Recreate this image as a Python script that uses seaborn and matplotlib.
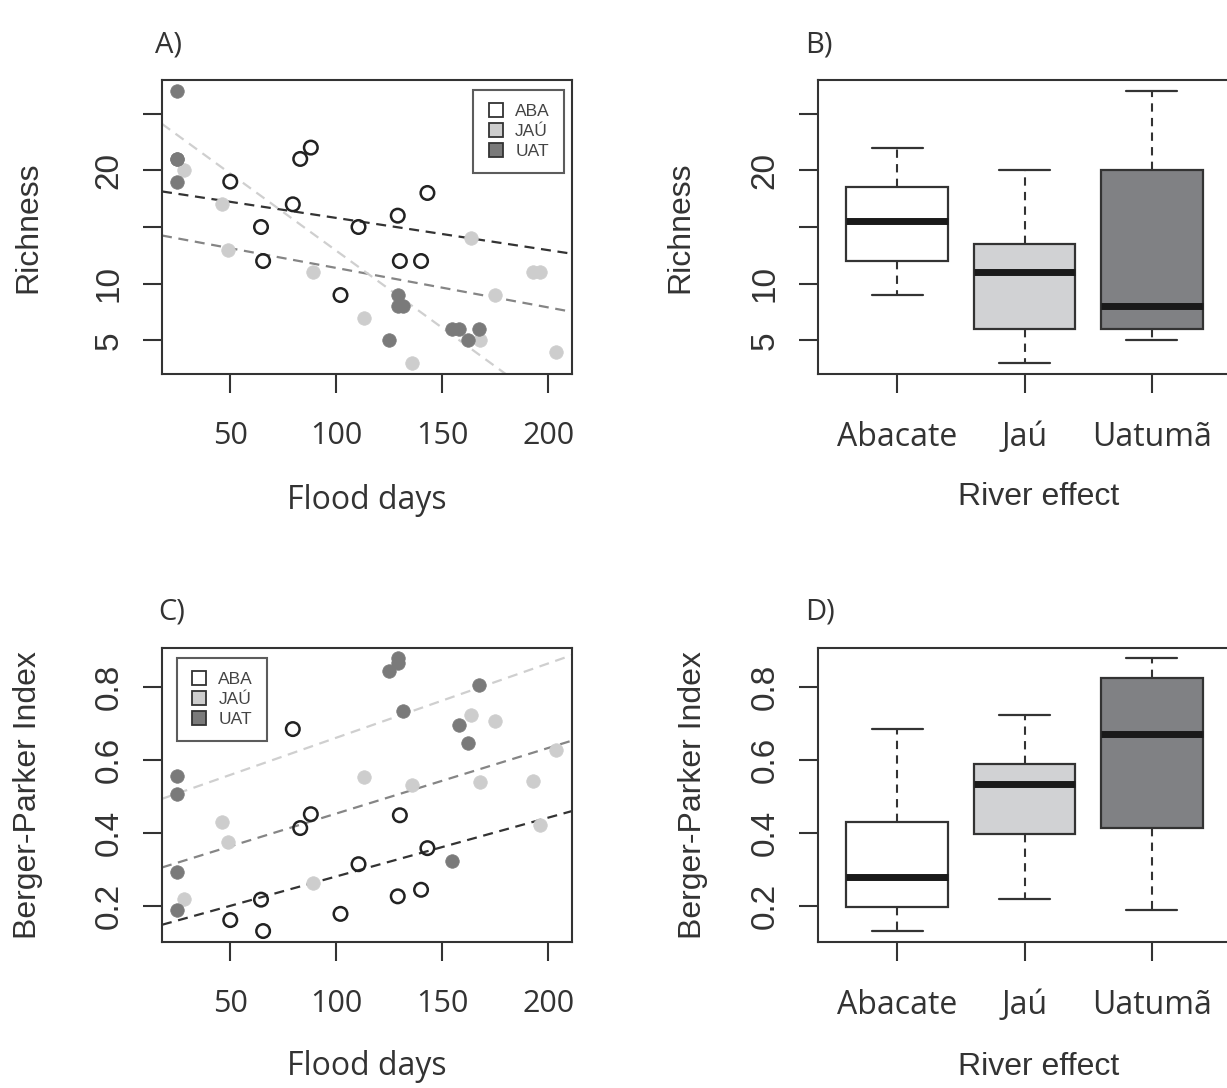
import numpy as np
import pandas as pd
import matplotlib
matplotlib.use("Agg")
import matplotlib.pyplot as plt
from matplotlib.lines import Line2D
import seaborn as sns

# site values
rivers = ["ABA", "JAÚ", "UAT"]
river_names = ["Abacate", "Jaú", "Uatumã"]

aba_days = [50, 64.5, 65.5, 79.5, 83, 88, 102, 110.5, 129, 130, 140, 143]
aba_rich = [19, 15, 12, 17, 21, 22, 9, 15, 16, 12, 12, 18]
aba_bp = [0.161, 0.217, 0.131, 0.684, 0.413, 0.451, 0.178, 0.314, 0.226, 0.448, 0.244, 0.358]

jau_days = [28, 46, 49, 89, 113, 135.5, 163.7, 167.7, 175, 193, 196, 203.5]
jau_rich = [20, 17, 13, 11, 7, 3, 14, 5, 9, 11, 11, 4]
jau_bp = [0.219, 0.430, 0.374, 0.263, 0.552, 0.531, 0.723, 0.538, 0.705, 0.541, 0.420, 0.626]

uat_days = [25, 25, 25, 25, 125, 129, 129, 131.5, 154.5, 157.7, 162, 167.5]
uat_rich = [27, 21, 21, 19, 5, 9, 8, 8, 6, 6, 5, 6]
uat_bp = [0.556, 0.506, 0.293, 0.189, 0.844, 0.879, 0.865, 0.733, 0.323, 0.696, 0.647, 0.804]

# fitted lines (intercept, slope) per river as drawn in the figure
rich_intercepts = [18.64, 14.87, 26.51]
rich_slopes = [-0.0284, -0.0348, -0.136]
bp_intercepts = [0.1195, 0.2731, 0.4568]
bp_slopes = [0.00161, 0.001796, 0.002035]

point_fill = ["none", "#cdcdcd", "#7a7a7a"]
point_edge = ["#222222", "#cdcdcd", "#7a7a7a"]
line_colors = ["#333333", "#858585", "#cfcfcf"]
box_colors = ["#ffffff", "#d1d2d4", "#808184"]
ink = "#333333"

df = pd.DataFrame({
    "river": np.repeat(rivers, 12),
    "name": np.repeat(river_names, 12),
    "days": aba_days + jau_days + uat_days,
    "rich": aba_rich + jau_rich + uat_rich,
    "bp": aba_bp + jau_bp + uat_bp,
})

sns.set_style("ticks")
plt.rcParams["font.family"] = ["Liberation Sans", "DejaVu Sans"]
plt.rcParams["text.color"] = ink
plt.rcParams["axes.labelcolor"] = ink

fig = plt.figure(figsize=(12.27, 10.88), dpi=100)
W, H = 1227, 1088


def add_ax(left, top, width=410, height=294):
    return fig.add_axes([left / W, 1 - (top + height) / H, width / W, height / H])


axA = add_ax(162, 80)
axB = add_ax(818, 80, width=413)
axC = add_ax(162, 648)
axD = add_ax(818, 648, width=413)


def style_axes(ax):
    for sp in ax.spines.values():
        sp.set_visible(True)
        sp.set_linewidth(1.5)
        sp.set_color(ink)
    ax.tick_params(axis="both", length=14, width=1.5, color=ink, labelcolor=ink)
    ax.tick_params(axis="x", labelsize=22, pad=20)
    ax.tick_params(axis="y", labelsize=24, pad=13)
    for lab in ax.get_yticklabels():
        lab.set_rotation(90)
        lab.set_va("center")
    ax.grid(False)


def fivenum(values):
    # R-style boxplot stats (Tukey hinges)
    x = np.sort(np.asarray(values, dtype=float))
    n = len(x)
    n4 = np.floor((n + 3) / 2) / 2
    d = np.array([1, n4, (n + 1) / 2, n + 1 - n4, n]) - 1
    return 0.5 * (x[np.floor(d).astype(int)] + x[np.ceil(d).astype(int)])


def box_stats(values):
    lo, q1, med, q3, hi = fivenum(values)
    x = np.asarray(values, dtype=float)
    iqr = q3 - q1
    inside = x[(x >= q1 - 1.5 * iqr) & (x <= q3 + 1.5 * iqr)]
    return {"med": med, "q1": q1, "q3": q3,
            "whislo": inside.min(), "whishi": inside.max(), "fliers": []}


def scatter_panel(ax, col, intercepts, slopes, ylim, yticks, ylabels, ylabel, legend_loc):
    for i, r in enumerate(rivers):
        sub = df[df["river"] == r]
        sns.scatterplot(data=sub, x="days", y=col, ax=ax, s=95,
                        facecolor=point_fill[i], edgecolor=point_edge[i],
                        linewidth=1.8 if i == 0 else 0.5, zorder=3)
    for i in range(3):
        ax.axline((0, intercepts[i]), slope=slopes[i], color=line_colors[i],
                  lw=1.6, dashes=(4.5, 3), zorder=2)
    ax.set_xlim(17.8, 211.2)
    ax.set_ylim(*ylim)
    ax.set_xticks([50, 100, 150, 200])
    ax.set_xticklabels(["50", "100", "150", "200"], family=["Open Sans", "DejaVu Sans"])
    ax.set_yticks(yticks)
    ax.set_yticklabels(ylabels)
    style_axes(ax)
    ax.set_xlabel("Flood days", fontsize=23, family=["Open Sans", "DejaVu Sans"])
    ax.set_ylabel(ylabel, fontsize=23)
    handles = [Line2D([], [], marker="s", ls="", markersize=10,
                      markerfacecolor=["#ffffff", "#cdcdcd", "#7a7a7a"][i],
                      markeredgecolor=ink, markeredgewidth=1.3) for i in range(3)]
    leg = ax.legend(handles, rivers, loc=legend_loc[0], bbox_to_anchor=legend_loc[1],
                    fontsize=12.5, frameon=True, fancybox=False, handlelength=1.0,
                    handletextpad=0.6, borderpad=0.8, labelspacing=0.28,
                    borderaxespad=0)
    leg.get_frame().set_edgecolor(ink)
    leg.get_frame().set_linewidth(1.5)
    for t in leg.get_texts():
        t.set_color("#444444")


def box_panel(ax, col, ylim, yticks, ylabels, ylabel):
    stats = [box_stats(df.loc[df["name"] == nm, col]) for nm in river_names]
    parts = ax.bxp(stats, positions=[0, 1, 2], widths=0.8, capwidths=0.4,
                   patch_artist=True, showfliers=False, manage_ticks=False,
                   boxprops={"linewidth": 1.6, "edgecolor": ink},
                   whiskerprops={"linewidth": 1.5, "color": ink, "linestyle": (0, (4, 3))},
                   capprops={"linewidth": 1.6, "color": ink},
                   medianprops={"linewidth": 5, "color": "#1a1a1a", "solid_capstyle": "butt"})
    for patch, c in zip(parts["boxes"], box_colors):
        patch.set_facecolor(c)
    ax.set_xlim(-0.62, 2.62)
    ax.set_ylim(*ylim)
    ax.set_yticks(yticks)
    ax.set_yticklabels(ylabels)
    ax.set_xticks([0, 1, 2])
    ax.set_xticklabels(river_names, family=["Open Sans", "DejaVu Sans"])
    style_axes(ax)
    ax.tick_params(axis="x", labelsize=23)
    ax.set_xlabel("River effect", fontsize=23)
    ax.set_ylabel(ylabel, fontsize=23)


scatter_panel(axA, "rich", rich_intercepts, rich_slopes, (2.04, 27.96),
              [5, 10, 15, 20, 25], ["5", "10", "", "20", ""], "Richness",
              ("upper right", (0.98, 0.965)))
scatter_panel(axC, "bp", bp_intercepts, bp_slopes, (0.101, 0.906),
              [0.2, 0.4, 0.6, 0.8], ["0.2", "0.4", "0.6", "0.8"], "Berger-Parker Index",
              ("upper left", (0.036, 0.965)))
box_panel(axB, "rich", (2.04, 27.96), [5, 10, 15, 20, 25], ["5", "10", "", "20", ""], "Richness")
box_panel(axD, "bp", (0.101, 0.906), [0.2, 0.4, 0.6, 0.8], ["0.2", "0.4", "0.6", "0.8"],
          "Berger-Parker Index")

# label positions (axes fractions)
for ax, (lx, ly) in [(axA, (-0.327, 0.5)), (axC, (-0.327, 0.5)),
                     (axB, (-0.334, 0.5)), (axD, (-0.303, 0.5))]:
    ax.yaxis.set_label_coords(lx, ly)
    ax.yaxis.label.set_va("center")
for ax, (lx, ly) in [(axA, (0.5, -0.43)), (axC, (0.5, -0.425)),
                     (axB, (0.535, -0.42)), (axD, (0.535, -0.425))]:
    ax.xaxis.set_label_coords(lx, ly)
    ax.xaxis.label.set_va("center")

for letter, x, y in [("A)", 155, 45), ("B)", 805, 45), ("C)", 158, 612), ("D)", 805, 612)]:
    fig.text(x / W, 1 - y / H, letter, fontsize=21, ha="left", va="center",
             family=["Open Sans", "DejaVu Sans"], color=ink)

fig.savefig("out.png", dpi=100, facecolor="white")
